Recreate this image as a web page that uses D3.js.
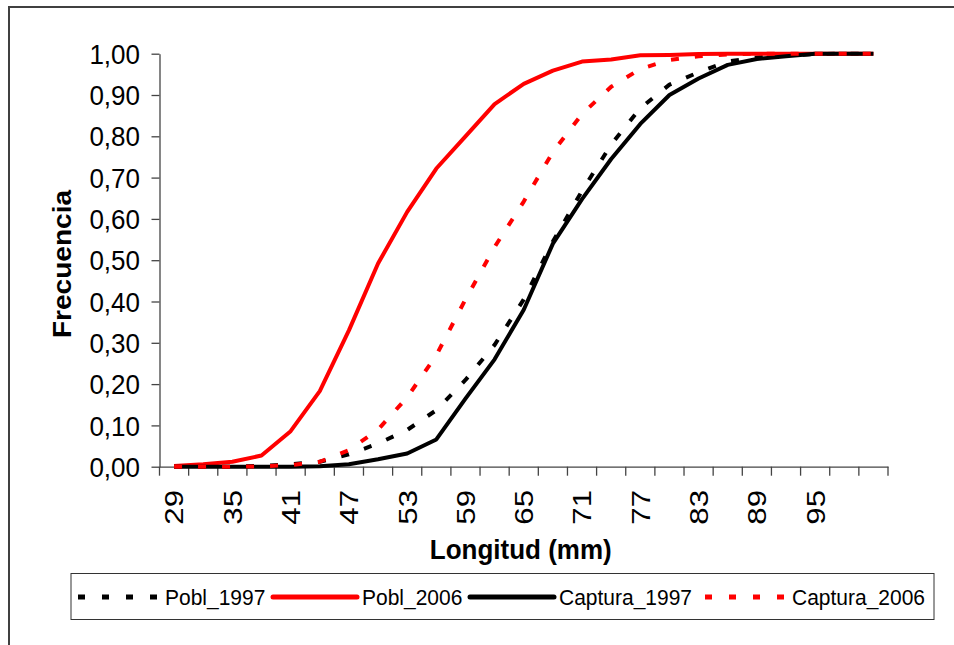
<!DOCTYPE html>
<html>
<head>
<meta charset="utf-8">
<script src="https://cdn.jsdelivr.net/npm/d3@7"></script>
<style>
  body { margin: 0; background: #fff; }
  text { font-family: "Liberation Sans", Arial, sans-serif; fill: #000; }
</style>
</head>
<body>
<script>
// longitudes (mm), one category every 3 mm; last label is blank in the original
const categories = [29, 32, 35, 38, 41, 44, 47, 50, 53, 56, 59, 62, 65, 68, 71, 74, 77, 80, 83, 86, 89, 92, 95, 98, 101];
const tickLabels = ['29', '35', '41', '47', '53', '59', '65', '71', '77', '83', '89', '95'];
const yTicks = [0, 0.1, 0.2, 0.3, 0.4, 0.5, 0.6, 0.7, 0.8, 0.9, 1];

const pobl1997 = [0, 0, 0, 0.002, 0.006, 0.012, 0.03, 0.056, 0.089, 0.137, 0.21, 0.295, 0.405, 0.545, 0.668, 0.78, 0.868, 0.925, 0.955, 0.981, 0.991, 0.996, 0.999, 1, 1];
const pobl2006 = [0.002, 0.006, 0.012, 0.027, 0.086, 0.183, 0.33, 0.492, 0.617, 0.722, 0.80, 0.878, 0.927, 0.959, 0.981, 0.986, 0.996, 0.997, 0.999, 1, 1, 1, 1, 1, 1];
const captura1997 = [0, 0, 0, 0, 0, 0.001, 0.006, 0.018, 0.032, 0.066, 0.165, 0.26, 0.38, 0.54, 0.648, 0.745, 0.83, 0.9, 0.94, 0.973, 0.987, 0.994, 1, 1, 1];
const captura2006 = [0, 0, 0, 0.001, 0.004, 0.012, 0.04, 0.09, 0.168, 0.27, 0.405, 0.532, 0.642, 0.762, 0.854, 0.92, 0.963, 0.985, 0.994, 0.998, 1, 1, 1, 1, 1];

const series = [
  { name: 'Pobl_1997', values: pobl1997, color: '#000', dash: '8,16' },
  { name: 'Pobl_2006', values: pobl2006, color: '#ff0000', dash: null },
  { name: 'Captura_1997', values: captura1997, color: '#000', dash: null },
  { name: 'Captura_2006', values: captura2006, color: '#ff0000', dash: '8,16' },
];

const W = 954, H = 645;
const plot = { left: 159.5, right: 888, top: 53.7, bottom: 466.7 };
const k = 1.08; // vertical stretch of the text in the original

const svg = d3.select('body').append('svg')
  .attr('width', W)
  .attr('height', H);

// outer chart frame (cut at the right and bottom of the picture)
svg.append('rect')
  .attr('x', 9).attr('y', 7)
  .attr('width', 1000).attr('height', 700)
  .attr('fill', 'none')
  .attr('stroke', '#404040')
  .attr('stroke-width', 2);

const x = d3.scaleBand().domain(categories).range([plot.left, plot.right]).padding(0);
const xEdge = d3.scaleLinear().domain([0, categories.length]).range([plot.left, plot.right]);
const y = d3.scaleLinear().domain([0, 1]).range([plot.bottom, plot.top]);
const cx = c => x(c) + x.bandwidth() / 2;

const fmt = d3.formatLocale({ decimal: ',', thousands: '.', grouping: [3], currency: ['', ''] }).format('.2f');

// y axis
const gy = svg.append('g')
  .attr('transform', `translate(${plot.left},0)`)
  .call(d3.axisLeft(y).tickValues(yTicks).tickSize(8).tickSizeOuter(0).tickFormat(''));
gy.selectAll('path, line').attr('stroke', '#444').attr('stroke-width', 1.3);

svg.append('g').selectAll('text')
  .data(yTicks)
  .join('text')
  .attr('transform', d => `translate(140,${y(d)}) scale(1,${k})`)
  .attr('dy', '0.36em')
  .attr('text-anchor', 'end')
  .attr('font-size', '26px')
  .text(d => fmt(d));

// x axis: line plus ticks on category edges
svg.append('g')
  .attr('transform', `translate(0,${plot.bottom})`)
  .call(d3.axisBottom(x).tickSize(0).tickFormat(''))
  .select('path').attr('stroke', '#444').attr('stroke-width', 1.3);

svg.append('g').selectAll('line')
  .data(d3.range(categories.length + 1))
  .join('line')
  .attr('x1', d => xEdge(d)).attr('x2', d => xEdge(d))
  .attr('y1', plot.bottom).attr('y2', plot.bottom + 9)
  .attr('stroke', '#444')
  .attr('stroke-width', 1.3);

svg.append('g').selectAll('text')
  .data(tickLabels)
  .join('text')
  .attr('transform', d => `translate(${cx(+d)},490) scale(1,1.2) rotate(-90)`)
  .attr('dy', '0.36em')
  .attr('text-anchor', 'end')
  .attr('font-size', '26px')
  .text(d => d);

// axis titles
svg.append('text')
  .attr('transform', `translate(${(plot.left + plot.right) / 2 - 3},559) scale(1,${k})`)
  .attr('text-anchor', 'middle')
  .attr('font-size', '26px')
  .attr('font-weight', 'bold')
  .text('Longitud (mm)');

svg.append('text')
  .attr('transform', `translate(62,264) scale(1,${k}) rotate(-90)`)
  .attr('dy', '0.36em')
  .attr('text-anchor', 'middle')
  .attr('font-size', '26px')
  .attr('font-weight', 'bold')
  .text('Frecuencia');

// lines
const line = d3.line()
  .x((d, i) => cx(categories[i]))
  .y(d => y(d));

svg.append('g').selectAll('path')
  .data(series)
  .join('path')
  .attr('d', d => line(d.values))
  .attr('fill', 'none')
  .attr('stroke', d => d.color)
  .attr('stroke-width', 4)
  .attr('stroke-linejoin', 'round')
  .attr('stroke-dasharray', d => d.dash);

// legend
svg.append('rect')
  .attr('x', 71).attr('y', 573.5)
  .attr('width', 863).attr('height', 46)
  .attr('fill', '#fff')
  .attr('stroke', '#333')
  .attr('stroke-width', 1);

const legendX = [78, 273, 470, 705];
const legendY = 597;
const lg = svg.append('g').selectAll('g')
  .data(series)
  .join('g')
  .attr('transform', (d, i) => `translate(${legendX[i]},${legendY})`);

lg.append('line')
  .attr('x1', 0).attr('x2', d => (d.dash ? 81 : 84))
  .attr('y1', 0).attr('y2', 0)
  .attr('stroke', d => d.color)
  .attr('stroke-width', 5)
  .attr('stroke-linecap', d => (d.dash ? 'butt' : 'round'))
  .attr('stroke-dasharray', d => (d.dash ? '7,17' : null));

lg.append('text')
  .attr('transform', d => `translate(${d.dash ? 87 : 89},0) scale(1,${k})`)
  .attr('dy', '0.36em')
  .attr('font-size', '21px')
  .text(d => d.name);
</script>
</body>
</html>
